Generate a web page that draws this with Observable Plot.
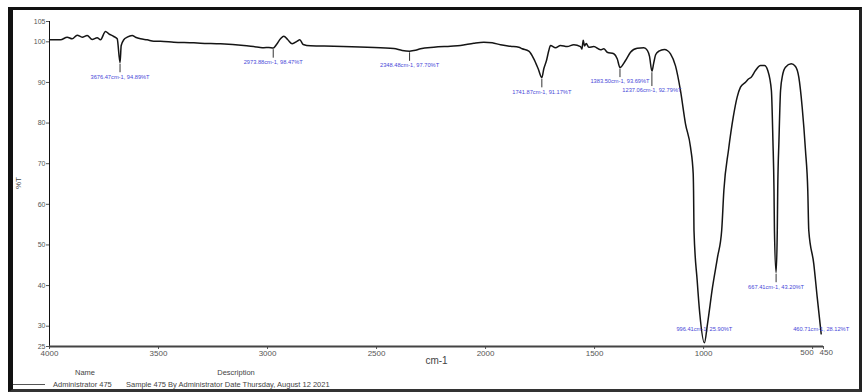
<!DOCTYPE html>
<html>
<head>
<meta charset="utf-8">
<script src="https://cdn.jsdelivr.net/npm/d3@7"></script>
<script src="https://cdn.jsdelivr.net/npm/@observablehq/plot@0.6"></script>
<style>
  html, body { margin: 0; padding: 0; background: #fff; }
  #chart { position: relative; width: 866px; height: 392px; overflow: hidden;
           font-family: "Liberation Sans", Arial, sans-serif; color: #444; }
  #plot { position: absolute; left: 0; top: 0; }
  #frame { position: absolute; left: 8px; top: 7px; width: 846px; height: 379px;
           border-left: 5px solid #111; border-top: 3px solid #111;
           border-right: 3px solid #222; border-bottom: 3px solid #333;
           pointer-events: none; }
  .foot { position: absolute; font-size: 7.5px; line-height: 9px; white-space: nowrap; color: #444; }
  .center { transform: translateX(-50%); }
  #swatch { position: absolute; left: 13px; top: 384px; width: 32px; height: 1px; background: #555; }
</style>
</head>
<body>
<div id="chart">
  <div id="plot"></div>
  <div class="foot center" style="left:85px; top:368px;">Name</div>
  <div class="foot center" style="left:236px; top:368px;">Description</div>
  <div id="swatch"></div>
  <div class="foot" style="left:53px; top:380px;">Administrator 475</div>
  <div class="foot" style="left:126px; top:380px;">Sample 475 By Administrator Date Thursday, August 12 2021</div>
  <div id="frame"></div>
</div>
<script>
// FTIR transmittance spectrum, wavenumber (cm-1) vs %T
const wavenumber = [
  4000, 3949.5, 3918.8, 3895.9, 3872.9, 3850.0, 3827.1, 3804.2, 3781.2, 3766.1,
  3743.2, 3728.0, 3705.1, 3689.5, 3676.47, 3671.1, 3659.2, 3643.6, 3620.7, 3605.6,
  3582.6, 3551.9, 3521.6, 3490.9, 3429.9, 3338.2, 3307.4, 3215.7, 3108.8, 3040.0,
  3017.1, 2994.2, 2973.88, 2958.8, 2940.5, 2925.4, 2907.0, 2886.8, 2863.9, 2852.0,
  2836.4, 2802.9, 2696.0, 2542.8, 2420.8, 2382.3, 2348.48, 2321.3, 2298.4, 2237.4,
  2160.8, 2114.9, 2053.9, 2008.0, 1969.5, 1931.4, 1885.6, 1847.5, 1831.9, 1801.6,
  1778.7, 1758.5, 1741.87, 1732.8, 1720.5, 1709.9, 1702.1, 1679.2, 1656.2, 1625.5,
  1595.3, 1564.6, 1558.0, 1552.0, 1546.0, 1538.4, 1526.5, 1503.6, 1472.8, 1457.7,
  1442.1, 1411.8, 1396.2, 1383.50, 1358.1, 1335.2, 1304.5, 1274.2, 1258.0, 1248.0,
  1237.06, 1229.0, 1220.0, 1205.0, 1180.0, 1165.0, 1151.7, 1128.8, 1105.9, 1083.0,
  1060.0, 1047.6, 1046.0, 1044.0, 1029.4, 1017.4, 996.41, 982.0, 959.0, 936.0,
  917.0, 907.0, 886.0, 864.0, 846.0, 830.7, 807.8, 792.7, 781.7, 762.0,
  739.0, 720.7, 705.6, 689.0, 682.0, 677.0, 675.0, 667.41, 662.0, 660.0,
  654.3, 647.0, 638.0, 624.4, 598.2, 578.4, 563.3, 547.8, 532.6, 522.1,
  517.5, 494.6, 478.9, 460.71
];
const transmittance = [
  100.5, 100.5, 101.13, 100.74, 101.63, 101.13, 101.55, 100.57, 100.99, 100.5,
  102.54, 101.97, 101.31, 100.74, 94.89, 99.09, 100.5, 101.13, 101.55, 101.13,
  100.74, 100.5, 100.15, 100.15, 99.91, 99.76, 99.66, 99.51, 99.09, 98.65,
  98.55, 98.6, 98.47, 99.34, 100.74, 101.38, 100.5, 99.51, 100.15, 100.5,
  99.34, 99.02, 98.92, 98.67, 98.35, 97.86, 97.70, 97.9, 98.28, 98.67,
  98.92, 99.09, 99.66, 99.91, 99.76, 99.27, 98.92, 98.67, 98.28, 97.69,
  95.82, 93.36, 91.17, 93.36, 95.4, 97.86, 99.09, 98.53, 99.09, 98.83,
  99.27, 98.83, 98.2, 100.4, 99.0, 99.6, 98.67, 98.83, 98.03, 98.28,
  97.44, 97.05, 95.82, 93.69, 95.4, 97.44, 98.43, 98.53, 97.9, 96.4,
  92.79, 94.7, 96.8, 97.7, 98.1, 97.8, 97.05, 94.08, 87.97, 79.82,
  74.06, 67.51, 63.4, 53.55, 41.25, 33.05, 25.90, 30.59, 39.6, 46.98,
  53.55, 63.4, 73.25, 81.44, 86.37, 88.83, 90.06, 90.9, 91.29, 92.94,
  94.17, 94.17, 92.94, 88.02, 75.71, 63.4, 53.55, 43.20, 53.55, 63.4,
  75.71, 88.02, 91.71, 93.75, 94.58, 93.92, 91.29, 83.9, 73.25, 63.4,
  53.55, 45.36, 37.14, 28.12
];

// Picked peaks (position and transmittance at the minimum)
const peakWavenumber = [3676.47, 2973.88, 2348.48, 1741.87, 1383.50, 1237.06, 996.41, 667.41, 460.71];
const peakTransmittance = [94.89, 98.47, 97.70, 91.17, 93.69, 92.79, 25.90, 43.20, 28.12];

// Axis ticks; the last two sit close together at the low-wavenumber end
const xTicks = [4000, 3500, 3000, 2500, 2000, 1500, 1000, 500, 450];
const yTicks = [105, 100, 90, 80, 70, 60, 50, 40, 30, 25];
const xEndTicks = xTicks.slice(-2);

const spectrum = wavenumber.map((wn, i) => ({wn, T: transmittance[i]}));

// Peak labels sit just under each minimum, kept above the baseline,
// and pushed down a line when they would collide with the previous one.
const peaks = [];
peakWavenumber.forEach((wn, i) => {
  const T = peakTransmittance[i];
  let ly = Math.max(T - 3.5, 29.2);
  const prev = peaks[i - 1];
  if (prev && Math.abs(prev.wn - wn) < 200 && Math.abs(prev.ly - ly) < 2) ly = prev.ly - 2.2;
  peaks.push({wn, T, ly, text: `${wn.toFixed(2)}cm-1, ${T.toFixed(2)}%T`});
});
const markers = peaks.filter(p => p.T - p.ly > 2);

const font = "'Liberation Sans', Arial, sans-serif";

const chart = Plot.plot({
  width: 866,
  height: 368,
  marginTop: 21,
  marginBottom: 22,
  marginLeft: 49,
  marginRight: 43,
  style: {fontFamily: font, fontSize: "8px", background: "transparent", color: "#555"},
  x: {domain: [4000, 450]},
  y: {domain: [25, 105]},
  marks: [
    Plot.ruleX([4000], {stroke: "#111", strokeWidth: 1}),
    Plot.axisX({ticks: xTicks, tickFormat: d => (xEndTicks.includes(d) ? "" : String(d)), tickSize: 3, tickPadding: 1, label: null, color: "#555"}),
    // the two crowded end labels lean away from each other
    Plot.text([xEndTicks[0]], {x: d => d, frameAnchor: "bottom", dy: 8.5, dx: 1, textAnchor: "end", text: d => String(d), fill: "#555"}),
    Plot.text([xEndTicks[1]], {x: d => d, frameAnchor: "bottom", dy: 8.5, dx: -4, textAnchor: "start", text: d => String(d), fill: "#555"}),
    Plot.axisY({ticks: yTicks, tickFormat: d => String(d), tickSize: 3, tickPadding: 1, label: null, color: "#555", fontSize: 7}),
    Plot.line(spectrum, {x: "wn", y: "T", stroke: "#151515", strokeWidth: 1.5, curve: "monotone-x"}),
    Plot.ruleY([25], {stroke: "#444", strokeWidth: 2}),
    Plot.ruleX(markers, {x: "wn", y1: d => d.T - 0.4, y2: d => d.ly + 1.0, stroke: "#333", strokeWidth: 1}),
    Plot.text(peaks, {x: "wn", y: "ly", text: "text", fontSize: 5.7, fill: "#4848d8"}),
    Plot.text(["%T"], {frameAnchor: "left", dx: -31, dy: 5, rotate: -90, fontSize: 8, fill: "#444"}),
    Plot.text(["cm-1"], {frameAnchor: "bottom", dy: 17, fontSize: 10, fill: "#444"})
  ]
});

document.getElementById("plot").appendChild(chart);
</script>
</body>
</html>
